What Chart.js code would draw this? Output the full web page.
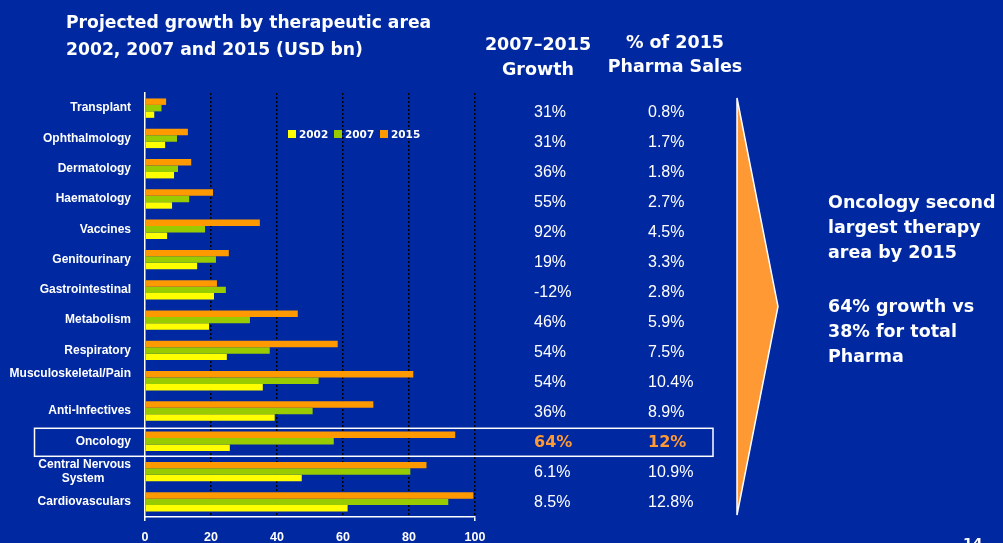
<!DOCTYPE html>
<html>
<head>
<meta charset="utf-8">
<script src="https://cdn.jsdelivr.net/npm/chart.js@4/dist/chart.umd.min.js"></script>
<style>
  html, body { margin: 0; padding: 0; background: #0028a0; overflow: hidden; }
  #wrap { position: relative; width: 1003px; height: 543px; }
  canvas { display: block; }
</style>
</head>
<body>
<div id="wrap"><canvas id="c" width="1003" height="543"></canvas></div>
<script>
// ---- data ----
const categories = ['Transplant', 'Ophthalmology', 'Dermatology', 'Haematology', 'Vaccines',
  'Genitourinary', 'Gastrointestinal', 'Metabolism', 'Respiratory', ['Musculoskeletal/Pain', ''],
  'Anti-Infectives', 'Oncology', ['Central Nervous', 'System        '], 'Cardiovasculars'];
const values2002 = [2.8, 6.1, 8.8, 8.2, 6.7, 15.8, 20.9, 19.4, 24.8, 35.7, 39.3, 25.7, 47.5, 61.4];
const values2007 = [5.0, 9.7, 10.0, 13.4, 18.2, 21.5, 24.5, 31.8, 37.8, 52.6, 50.8, 57.2, 80.4, 91.9];
const values2015 = [6.4, 13.0, 14.0, 20.6, 34.8, 25.4, 21.8, 46.3, 58.4, 81.3, 69.2, 94.0, 85.3, 99.5];
const growth0715 = ['31%', '31%', '36%', '55%', '92%', '19%', '-12%', '46%', '54%', '54%', '36%', '64%', '6.1%', '8.5%'];
const share2015 = ['0.8%', '1.7%', '1.8%', '2.7%', '4.5%', '3.3%', '2.8%', '5.9%', '7.5%', '10.4%', '8.9%', '12%', '10.9%', '12.8%'];
const xTicks = [0, 20, 40, 60, 80, 100];
const highlightIndex = 11;

const BG = '#0028a0', ORANGE = '#ff9900', GREEN = '#99cc00', YELLOW = '#ffff00', ARROW = '#ff9933';
const BOLD = '"DejaVu Sans", sans-serif';
const REG = '"Liberation Sans", Arial, sans-serif';

function txt(ctx, s, x, y, font, color, align) {
  ctx.font = font; ctx.fillStyle = color; ctx.textAlign = align || 'left';
  ctx.textBaseline = 'alphabetic'; ctx.fillText(s, x, y);
}

const decor = {
  id: 'decor',
  afterDraw(chart) {
    const ctx = chart.ctx;
    const ys = chart.scales.y;
    ctx.save();
    // title
    txt(ctx, 'Projected growth by therapeutic area', 66, 28, 'bold 17.2px ' + BOLD, '#fff');
    txt(ctx, '2002, 2007 and 2015 (USD bn)', 66, 55, 'bold 17.2px ' + BOLD, '#fff');
    // column headers
    txt(ctx, '2007\u20132015', 538, 50, 'bold 17.5px ' + BOLD, '#fff', 'center');
    txt(ctx, 'Growth', 538, 75, 'bold 17.5px ' + BOLD, '#fff', 'center');
    txt(ctx, '% of 2015', 675, 48, 'bold 17.5px ' + BOLD, '#fff', 'center');
    txt(ctx, 'Pharma Sales', 675, 72, 'bold 17.5px ' + BOLD, '#fff', 'center');
    // legend
    const leg = [[YELLOW, '2002', 288], [GREEN, '2007', 334], [ORANGE, '2015', 380]];
    leg.forEach(([c, s, x]) => {
      ctx.fillStyle = c; ctx.fillRect(x, 130, 8, 8);
      txt(ctx, s, x + 11, 138, 'bold 10.5px ' + BOLD, '#fff');
    });
    // value columns
    categories.forEach((c, i) => {
      const y = ys.getPixelForValue(i) + 4 - i * 0.25;
      ctx.textBaseline = 'middle';
      if (i === highlightIndex) {
        ctx.font = 'bold 16px ' + BOLD; ctx.fillStyle = ARROW;
      } else {
        ctx.font = '16px ' + REG; ctx.fillStyle = '#fff';
      }
      ctx.textAlign = 'left';
      ctx.fillText(growth0715[i], 534, y);
      ctx.fillText(share2015[i], 648, y);
    });
    // highlight box
    ctx.strokeStyle = '#fff'; ctx.lineWidth = 1.5;
    const yh = ys.getPixelForValue(highlightIndex);
    ctx.strokeRect(34.5, yh - 13, 678.5, 28);
    // arrow
    ctx.beginPath();
    ctx.moveTo(737, 98); ctx.lineTo(778, 306.5); ctx.lineTo(737, 515); ctx.closePath();
    ctx.fillStyle = ARROW; ctx.fill();
    ctx.strokeStyle = '#fff'; ctx.lineWidth = 1.5; ctx.stroke();
    // side text
    const f = 'bold 17.5px ' + BOLD;
    txt(ctx, 'Oncology second', 828, 208, f, '#fff');
    txt(ctx, 'largest therapy', 828, 233, f, '#fff');
    txt(ctx, 'area by 2015', 828, 258, f, '#fff');
    txt(ctx, '64% growth vs', 828, 311.5, f, '#fff');
    txt(ctx, '38% for total', 828, 336.5, f, '#fff');
    txt(ctx, 'Pharma', 828, 361.5, f, '#fff');
    // page number
    txt(ctx, '14', 963, 548, 'bold 14px ' + BOLD, '#fff');
    ctx.restore();
  }
};

new Chart(document.getElementById('c'), {
  type: 'bar',
  data: {
    labels: categories,
    datasets: [
      { label: '2015', data: values2015, backgroundColor: ORANGE, borderWidth: 0 },
      { label: '2007', data: values2007, backgroundColor: GREEN, borderWidth: 0 },
      { label: '2002', data: values2002, backgroundColor: YELLOW, borderWidth: 0 }
    ]
  },
  options: {
    indexAxis: 'y',
    responsive: false,
    animation: false,
    devicePixelRatio: 1,
    categoryPercentage: 0.64,
    barPercentage: 1,
    layout: { padding: { top: 93, right: 528, bottom: 0, left: 0 } },
    plugins: { legend: { display: false }, tooltip: { enabled: false } },
    scales: {
      x: {
        min: 0, max: 100,
        afterFit(s) { s.height = 26; },
        afterBuildTicks(s) { s.ticks = xTicks.map(v => ({ value: v })); },
        grid: {
          color: c => (c.tick && c.tick.value === 0) ? 'rgba(0,0,0,0)' : '#000',
          lineWidth: 1.5,
          drawTicks: true,
          tickLength: 4,
          tickColor: c => (c.tick && (c.tick.value === 0 || c.tick.value === 100)) ? '#fff' : 'rgba(0,0,0,0)',
          tickWidth: 1.5
        },
        border: { display: true, color: '#fff', width: 1.5, dash: [2, 2] },
        ticks: { color: '#fff', font: { family: 'Liberation Sans', weight: 'bold', size: 12.5 }, padding: 9 }
      },
      y: {
        afterFit(s) { s.width = 145; },
        grid: { display: false, drawTicks: false },
        border: { display: true, color: '#fff', width: 1.5 },
        ticks: { color: '#fff', autoSkip: false, font: { family: 'Liberation Sans', weight: 'bold', size: 12 }, padding: 14 }
      }
    }
  },
  plugins: [decor]
});
</script>
</body>
</html>
